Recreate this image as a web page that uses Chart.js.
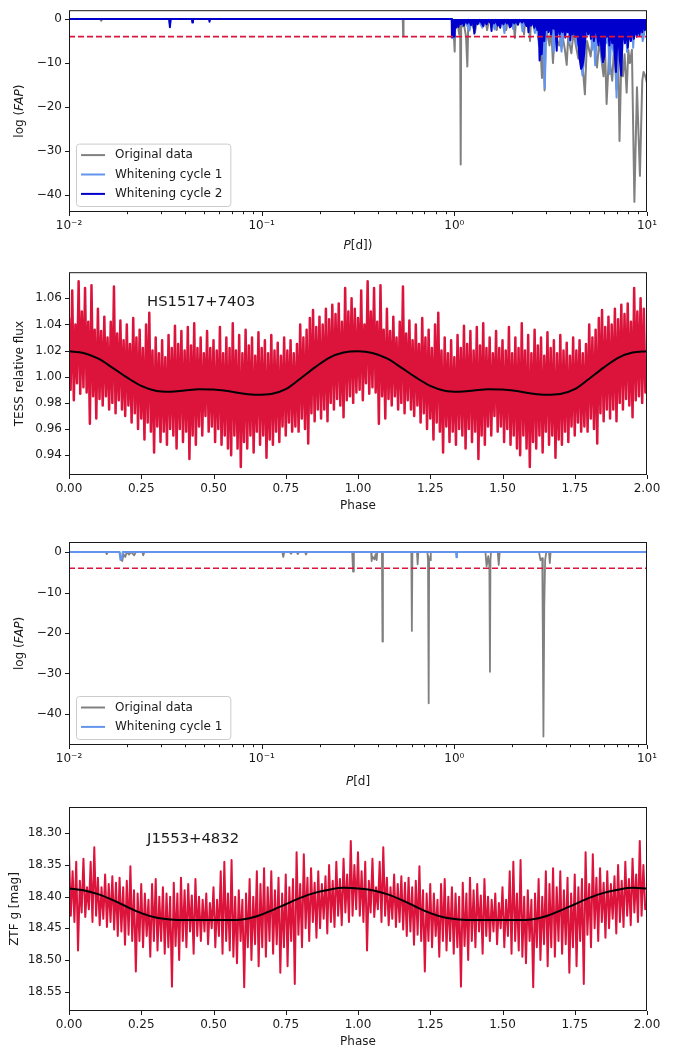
<!DOCTYPE html>
<html>
<head>
<meta charset="utf-8">
<script src="https://cdn.jsdelivr.net/npm/chart.js@4.4.1/dist/chart.umd.min.js"></script>
<style>
  html, body { margin: 0; padding: 0; background: #fff; }
  #page { position: relative; width: 681px; height: 1050px; overflow: hidden; }
  canvas { position: absolute; left: 0; }
</style>
</head>
<body>
<div id="page">
  <canvas id="fapTess" width="681" height="262" style="top:0px"></canvas>
  <canvas id="foldTess" width="681" height="266" style="top:262px"></canvas>
  <canvas id="fapZtf" width="681" height="266" style="top:528px"></canvas>
  <canvas id="foldZtf" width="681" height="256" style="top:794px"></canvas>
</div>
<script>
// ---- tick values ----
const logTicks = [0.01, 0.02, 0.03, 0.04, 0.05, 0.06, 0.07, 0.08, 0.09,
  0.1, 0.2, 0.3, 0.4, 0.5, 0.6, 0.7, 0.8, 0.9, 1, 2, 3, 4, 5, 6, 7, 8, 9, 10];
const logTickLabels = { 0.01: '10\u207B\u00B2', 0.1: '10\u207B\u00B9', 1: '10\u2070', 10: '10\u00B9' };
const fapTicks = [-40, -30, -20, -10, 0];
const phaseTicks = [0, 0.25, 0.5, 0.75, 1, 1.25, 1.5, 1.75, 2];
const tessTicks = [0.94, 0.96, 0.98, 1.00, 1.02, 1.04, 1.06];
const ztfTicks = [18.30, 18.35, 18.40, 18.45, 18.50, 18.55];
const fapThreshold = -4;

// ---- HS1517+7403 periodogram: [period (d), log FAP] ----
const tessOriginal = [
  [0.01, 0], [0.0145, 0], [0.0147, -0.4], [0.0149, 0], [0.54, 0], [0.5425, -3.9], [0.545, 0],
  [0.97, 0], [0.985, -3.0], [0.998, -5.0], [1.004, -7.4], [1.01, -2.0], [1.04, -1.0], [1.06, -3.5],
  [1.072, -1.0], [1.079, -33.0], [1.085, -2.0], [1.12, -1.0], [1.15, -4.0], [1.168, -10.8], [1.18, -2.0],
  [1.22, -0.3], [1.28, -3.0], [1.31, -0.3], [1.45, -0.3], [1.48, -2.5], [1.51, -0.3], [1.63, -0.3],
  [1.66, -2.5], [1.69, -0.3], [1.83, -0.3], [1.86, -2.5], [1.89, -0.3], [2.03, -0.3], [2.06, -4.3],
  [2.09, -0.3], [2.27, -0.3], [2.30, -3.5], [2.33, -0.3], [2.44, -0.3], [2.47, -5.0], [2.50, -0.3],
  [2.69, -0.5], [2.72, -4.5], [2.76, -1.0], [2.85, -13.4], [2.89, -3.0], [2.94, -16.2], [2.99, -2.0],
  [3.12, -6.0], [3.18, -2.0], [3.25, -10.0], [3.32, -3.0], [3.50, -6.0], [3.62, -3.0], [3.75, -7.0],
  [3.83, -10.4], [3.90, -4.0], [4.05, -7.8], [4.15, -3.0], [4.40, -9.0], [4.55, -6.0], [4.76, -17.1],
  [4.88, -5.0], [5.10, -8.5], [5.25, -3.0], [5.50, -11.0], [5.65, -5.0], [5.95, -13.0], [6.05, -6.0],
  [6.17, -19.3], [6.35, -8.0], [6.60, -14.0], [6.75, -6.0], [6.95, -16.0], [7.08, -7.0], [7.20, -27.7],
  [7.35, -10.0], [7.50, -13.0], [7.65, -8.0], [7.84, -16.7], [8.00, -7.0], [8.15, -10.0], [8.35, -7.0],
  [8.60, -41.5], [8.87, -15.5], [9.19, -35.6], [9.45, -14.0], [9.60, -12.0], [9.80, -13.0], [10, -14.5]
];
const tessCycle1 = [
  [0.01, 0], [0.0331, 0], [0.0334, -1.2], [0.0337, 0], [0.97, 0], [0.972, -4.3], [1.0, -4.2], [1.01, -1.0],
  [1.06, -0.3], [1.10, -1.2], [1.13, -0.3], [1.20, -2.6], [1.23, -0.3], [1.35, -0.8], [1.40, -2.0],
  [1.44, -0.3], [1.58, -0.6], [1.62, -2.4], [1.66, -0.3], [1.78, -0.6], [1.82, -3.2], [1.86, -0.3],
  [1.98, -0.6], [2.02, -2.3], [2.06, -0.3], [2.22, -0.6], [2.26, -2.8], [2.30, -0.3], [2.56, -0.8],
  [2.62, -3.2], [2.68, -1.0], [2.75, -6.0], [2.82, -3.0], [2.92, -9.8], [2.95, -15.7], [2.98, -6.0],
  [3.02, -2.0], [3.20, -2.0], [3.28, -7.5], [3.36, -3.0], [3.52, -3.0], [3.60, -7.4], [3.68, -3.0],
  [3.90, -2.0], [3.96, -5.5], [4.04, -2.0], [4.26, -3.0], [4.32, -6.0], [4.42, -5.0], [4.52, -8.0],
  [4.62, -12.8], [4.70, -10.0], [4.80, -4.0], [5.10, -2.0], [5.20, -7.0], [5.30, -3.0], [5.38, -10.5],
  [5.48, -4.0], [5.75, -3.5], [5.85, -10.0], [5.95, -6.0], [6.30, -5.0], [6.40, -12.5], [6.50, -5.0],
  [6.85, -9.0], [6.95, -17.8], [7.05, -6.0], [7.30, -7.0], [7.38, -11.0], [7.48, -4.0], [7.80, -2.0],
  [7.88, -7.5], [7.98, -2.0], [8.40, -2.5], [8.48, -6.5], [8.58, -2.0], [9.35, -1.5], [9.50, -5.0],
  [9.62, -4.0], [9.78, -1.5], [10, -1.0]
];
const tessCycle2 = [
  [0.01, 0], [0.0331, 0], [0.0334, -1.85], [0.0337, 0], [0.0434, 0], [0.0437, -0.8], [0.044, 0],
  [0.0533, 0], [0.0536, -0.6], [0.054, 0], [0.97, 0], [0.972, -4.1], [1.003, -4.0], [1.008, -1.5],
  [1.02, -2.0], [1.035, -0.5], [1.05, -1.8], [1.065, -0.3], [1.08, -1.2], [1.10, -0.3], [1.12, -1.5],
  [1.14, -0.3], [1.17, -1.0], [1.19, -0.2], [1.22, -1.4], [1.25, -0.3], [1.27, -3.3], [1.29, -0.3],
  [1.32, -1.2], [1.35, -0.2], [1.39, -1.0], [1.415, -1.6], [1.43, -0.2], [1.47, -1.2], [1.50, -0.2],
  [1.545, -1.0], [1.56, -2.7], [1.575, -0.2], [1.61, -1.0], [1.64, -0.2], [1.68, -1.5], [1.70, -0.3],
  [1.73, -2.0], [1.76, -0.3], [1.80, -1.2], [1.83, -0.2], [1.87, -1.0], [1.90, -0.2], [1.94, -1.9],
  [1.97, -1.6], [2.0, -0.3], [2.05, -1.0], [2.08, -0.2], [2.14, -1.3], [2.18, -0.2], [2.25, -0.8],
  [2.30, -0.2], [2.37, -1.6], [2.40, -0.3], [2.425, -3.0], [2.45, -0.3], [2.50, -1.5], [2.54, -0.3],
  [2.60, -2.0], [2.64, -0.5], [2.70, -2.5], [2.74, -1.0], [2.77, -9.4], [2.80, -6.0], [2.84, -8.0],
  [2.88, -3.0], [2.93, -5.0], [2.97, -1.0], [3.0, -2.5], [3.04, -0.5], [3.08, -3.0], [3.12, -1.0],
  [3.18, -3.5], [3.22, -0.8], [3.28, -2.2], [3.33, -1.0], [3.37, -4.0], [3.40, -7.2], [3.43, -2.0],
  [3.47, -1.0], [3.52, -3.5], [3.58, -1.5], [3.64, -3.0], [3.70, -1.0], [3.76, -4.2], [3.82, -1.5],
  [3.88, -3.0], [3.94, -1.2], [4.0, -4.8], [4.06, -1.5], [4.12, -3.5], [4.18, -1.5], [4.25, -4.0],
  [4.32, -2.0], [4.40, -5.5], [4.47, -9.0], [4.55, -11.3], [4.63, -10.5], [4.72, -8.0], [4.80, -3.0],
  [4.88, -1.5], [4.95, -3.5], [5.02, -1.5], [5.12, -4.5], [5.2, -2.0], [5.30, -5.0], [5.40, -1.5],
  [5.5, -3.5], [5.6, -6.0], [5.70, -2.0], [5.80, -7.0], [5.90, -9.8], [6.00, -8.5], [6.08, -3.0],
  [6.18, -4.0], [6.28, -2.0], [6.38, -6.0], [6.48, -2.5], [6.60, -5.5], [6.70, -2.0], [6.80, -8.0],
  [6.90, -12.0], [7.0, -6.0], [7.10, -3.0], [7.22, -9.0], [7.35, -12.8], [7.45, -5.0], [7.55, -2.0],
  [7.68, -5.5], [7.80, -2.0], [7.95, -6.5], [8.10, -2.5], [8.25, -5.0], [8.40, -1.5], [8.55, -4.5],
  [8.70, -1.5], [8.85, -4.0], [9.0, -1.5], [9.15, -3.8], [9.3, -1.0], [9.45, -3.0], [9.6, -0.8],
  [9.75, -2.5], [9.9, -1.0], [10, -2.0]
];

// ---- J1553+4832 periodogram ----
const ztfOriginal = [
  [0.01, 0], [0.0155, 0], [0.0157, -0.5], [0.0159, 0], [0.0183, 0], [0.0186, -1.8], [0.0189, -2.2],
  [0.0192, -0.5], [0.0196, -1.2], [0.0199, 0], [0.0205, -0.6], [0.021, 0], [0.0218, -0.8], [0.0222, 0],
  [0.024, 0], [0.0243, -0.8], [0.0246, 0], [0.128, 0], [0.1295, -1.2], [0.131, 0], [0.14, 0],
  [0.142, -0.4], [0.144, 0], [0.152, 0], [0.154, -0.5], [0.156, 0], [0.168, 0], [0.17, -0.6], [0.172, 0],
  [0.295, 0], [0.298, -4.8], [0.301, 0], [0.37, 0], [0.372, -2.2], [0.375, -1.0], [0.385, -1.8],
  [0.39, -0.5], [0.395, -2.0], [0.398, 0], [0.421, 0], [0.4236, -22.1], [0.426, 0], [0.598, 0],
  [0.602, -19.5], [0.606, 0], [0.64, 0], [0.645, -3.0], [0.65, 0], [0.725, 0], [0.73, -2.0],
  [0.735, -1.0], [0.737, -37.4], [0.74, -1.5], [0.75, -2.0], [0.755, 0], [1.45, 0], [1.47, -3.5],
  [1.5, -1.0], [1.52, -3.5], [1.531, -29.6], [1.54, -2.0], [1.55, 0], [1.68, 0], [1.70, -3.2], [1.72, 0],
  [2.75, 0], [2.80, -2.0], [2.86, -1.5], [2.88, -22.0], [2.90, -45.6], [2.93, -13.5], [2.96, -2.0],
  [3.0, 0], [3.10, 0], [3.13, -2.7], [3.16, 0], [10, 0]
];
const ztfCycle1 = [
  [0.01, 0], [0.0183, 0], [0.0185, -1.9], [0.0188, -1.6], [0.019, 0],
  [1.02, 0], [1.026, -1.3], [1.032, 0], [10, 0]
];

// ---- phase-folded light curves (one cycle, plotted twice) ----
const tessFlux = [
  1.045, 0.990, 1.066, 0.982, 1.040, 0.995, 1.073, 0.987, 1.050, 0.992,
  1.068, 0.988, 1.042, 0.964, 1.070, 0.985, 1.036, 0.968, 1.052, 0.983,
  1.035, 0.978, 1.046, 0.985, 1.030, 0.975, 1.042, 0.980, 1.069, 0.972,
  1.033, 0.982, 1.043, 0.975, 1.028, 0.970, 1.040, 0.978, 1.025, 0.965,
  1.045, 0.972, 1.030, 0.960, 1.036, 0.968, 1.022, 0.952, 1.040, 0.965,
  1.049, 0.958, 1.020, 0.942, 1.030, 0.962, 1.018, 0.950, 1.028, 0.958,
  1.015, 0.948, 1.032, 0.960, 1.022, 0.955, 1.039, 0.945, 1.025, 0.960,
  1.035, 0.950, 1.020, 0.958, 1.038, 0.937, 1.024, 0.955, 1.041, 0.948,
  1.022, 0.962, 1.030, 0.955, 1.018, 0.970, 1.035, 0.958, 1.022, 0.962,
  1.028, 0.950, 1.020, 0.960, 1.038, 0.948, 1.018, 0.955, 1.030, 0.945,
  1.022, 0.940, 1.041, 0.955, 1.020, 0.945, 1.032, 0.931, 1.018, 0.950,
  1.036, 0.945, 1.024, 0.955, 1.030, 0.942, 1.016, 0.958, 1.034, 0.948,
  1.022, 0.955, 1.028, 0.938, 1.018, 0.952, 1.032, 0.948, 1.020, 0.958,
  1.026, 0.950, 1.016, 0.962, 1.030, 0.955, 1.020, 0.965, 1.028, 0.958,
  1.018, 0.962, 1.025, 0.958, 1.040, 0.968, 1.030, 0.960, 1.036, 0.949,
  1.045, 0.972, 1.051, 0.966, 1.038, 0.975, 1.046, 0.968, 1.040, 0.975,
  1.052, 0.966, 1.044, 0.980, 1.055, 0.975, 1.048, 0.983, 1.056, 0.978,
  1.042, 0.969, 1.068, 0.982, 1.050, 0.985, 1.060, 0.980, 1.052, 0.988
];
const modelPhase = [0, 0.05, 0.1, 0.15, 0.2, 0.25, 0.3, 0.35, 0.4, 0.45, 0.5,
  0.55, 0.6, 0.65, 0.7, 0.75, 0.8, 0.85, 0.9, 0.95, 1.0];
const tessModel = [1.0195, 1.0182, 1.0140, 1.0070, 0.9995, 0.9930, 0.9893, 0.9885, 0.9895, 0.9905, 0.9903,
  0.9890, 0.9872, 0.9862, 0.9868, 0.9905, 0.9985, 1.0070, 1.0145, 1.0185, 1.0195];
const ztfMag = [
  18.330, 18.430, 18.360, 18.440, 18.345, 18.485, 18.375, 18.425, 18.340, 18.432,
  18.385, 18.420, 18.345, 18.440, 18.322, 18.430, 18.370, 18.445, 18.385, 18.435,
  18.365, 18.448, 18.380, 18.440, 18.368, 18.452, 18.378, 18.462, 18.370, 18.455,
  18.385, 18.476, 18.375, 18.460, 18.352, 18.470, 18.390, 18.518, 18.395, 18.470,
  18.380, 18.480, 18.395, 18.462, 18.405, 18.495, 18.380, 18.470, 18.372, 18.485,
  18.400, 18.470, 18.385, 18.490, 18.395, 18.480, 18.400, 18.542, 18.378, 18.478,
  18.395, 18.500, 18.370, 18.470, 18.390, 18.480, 18.380, 18.455, 18.398, 18.490,
  18.372, 18.462, 18.400, 18.470, 18.405, 18.455, 18.395, 18.475, 18.410, 18.450,
  18.385, 18.480, 18.405, 18.462, 18.360, 18.490, 18.345, 18.470, 18.395, 18.485,
  18.342, 18.495, 18.400, 18.505, 18.390, 18.470, 18.405, 18.543, 18.395, 18.480,
  18.372, 18.500, 18.400, 18.475, 18.360, 18.510, 18.380, 18.480, 18.355, 18.495,
  18.385, 18.470, 18.360, 18.490, 18.390, 18.475, 18.370, 18.520, 18.395, 18.480,
  18.365, 18.510, 18.385, 18.470, 18.372, 18.538, 18.330, 18.460, 18.380, 18.480,
  18.333, 18.450, 18.370, 18.470, 18.355, 18.440, 18.378, 18.465, 18.360, 18.450,
  18.380, 18.435, 18.368, 18.458, 18.350, 18.440, 18.375, 18.448, 18.345, 18.430,
  18.372, 18.445, 18.340, 18.425, 18.365, 18.440, 18.312, 18.430, 18.350, 18.420
];
const ztfModel = [18.387, 18.390, 18.396, 18.405, 18.416, 18.426, 18.433, 18.436, 18.437, 18.437, 18.437,
  18.437, 18.436, 18.431, 18.422, 18.412, 18.402, 18.394, 18.389, 18.386, 18.387];

const FONT = '"DejaVu Sans"';
const INK = '#1a1a1a';
Chart.defaults.font.family = FONT;
Chart.defaults.color = INK;

const pairsToXY = arr => arr.map(([x, y]) => ({ x, y }));
// the folded curve is shown over two cycles: phase and phase + 1
function twoCycles(phases, values) {
  const one = values.map((v, i) => ({ x: phases[i], y: v }));
  return one.concat(one.map(p => ({ x: p.x + 1, y: p.y })));
}
const evenPhases = vals => vals.map((_, i) => i / vals.length);

// draws text made of upright / italic pieces, centred on (cx, cy)
function drawRich(ctx, parts, cx, cy, rotated, size) {
  ctx.save();
  ctx.translate(cx, cy);
  if (rotated) ctx.rotate(-Math.PI / 2);
  ctx.fillStyle = INK;
  ctx.textBaseline = 'middle';
  let w = 0;
  parts.forEach(([t, st]) => { ctx.font = `${st} ${size}px ${FONT}`; w += ctx.measureText(t).width; });
  let xx = -w / 2;
  parts.forEach(([t, st]) => {
    ctx.font = `${st} ${size}px ${FONT}`;
    ctx.fillText(t, xx, 0);
    xx += ctx.measureText(t).width;
  });
  ctx.restore();
}

// matplotlib-like frame, tick marks, labels, legend and annotation
const mplAxes = {
  id: 'mpl',
  afterDatasetsDraw(chart, args, o) {
    const { ctx, chartArea: a } = chart;
    const xs = chart.scales.x, ys = chart.scales.y;
    ctx.save();
    ctx.strokeStyle = INK;
    ctx.lineWidth = 1;
    ctx.beginPath();
    xs.ticks.forEach(t => {
      const px = Math.round(xs.getPixelForValue(t.value)) + 0.5;
      let len = 4;
      if (xs.type === 'logarithmic') {
        const e = Math.log10(t.value);
        if (Math.abs(e - Math.round(e)) > 1e-6) len = 2.2;
      }
      ctx.moveTo(px, a.bottom); ctx.lineTo(px, a.bottom + len);
    });
    ys.ticks.forEach(t => {
      const py = Math.round(ys.getPixelForValue(t.value)) + 0.5;
      ctx.moveTo(a.left, py); ctx.lineTo(a.left - 4, py);
    });
    ctx.stroke();
    ctx.strokeRect(a.left + 0.5, a.top + 0.5, a.right - a.left - 1, a.bottom - a.top - 1);

    drawRich(ctx, o.xTitle, (a.left + a.right) / 2, a.bottom + o.xTitleGap, false, 12);
    drawRich(ctx, o.yTitle, o.yTitleX, (a.top + a.bottom) / 2, true, 12);

    if (o.note) {
      ctx.font = `${o.note.size}px ${FONT}`;
      ctx.fillStyle = INK;
      ctx.textBaseline = 'alphabetic';
      ctx.textAlign = 'left';
      ctx.fillText(o.note.text, xs.getPixelForValue(o.note.x), ys.getPixelForValue(o.note.y));
    }

    if (o.legend) {
      const items = o.legend.map(l => chart.data.datasets.find(d => d.label === l));
      const fs = 12, row = 19.4;
      const h = 9.6 + items.length * 14 + (items.length - 1) * 5.4;
      ctx.font = `${fs}px ${FONT}`;
      const tw = Math.max(...items.map(d => ctx.measureText(d.label).width));
      const bx = a.left + 7, by = a.bottom - 6 - h, bw = 39 + tw + 8;
      ctx.beginPath();
      ctx.roundRect(bx + 0.5, by + 0.5, bw, h, 3);
      ctx.fillStyle = 'rgba(255,255,255,0.8)';
      ctx.fill();
      ctx.strokeStyle = '#cccccc';
      ctx.stroke();
      items.forEach((d, i) => {
        const cy = by + 11.5 + i * row;
        ctx.beginPath();
        ctx.strokeStyle = d.borderColor;
        ctx.lineWidth = 2;
        ctx.moveTo(bx + 5, cy); ctx.lineTo(bx + 29, cy);
        ctx.stroke();
        ctx.fillStyle = INK;
        ctx.textBaseline = 'middle';
        ctx.fillText(d.label, bx + 39, cy);
      });
    }
    ctx.restore();
  }
};

function axis(a, fit) {
  return {
    type: a.type || 'linear',
    min: a.min, max: a.max, reverse: !!a.reverse,
    afterBuildTicks: s => { s.ticks = a.ticks.map(v => ({ value: v })); },
    afterFit: fit,
    grid: { display: false, drawTicks: true, tickLength: 4 },
    border: { display: false },
    ticks: { autoSkip: false, maxRotation: 0, minRotation: 0, padding: 3, color: INK,
             font: { size: 12 }, callback: a.label }
  };
}

function buildPanel(id, cfg) {
  const canvas = document.getElementById(id);
  const H = canvas.height;
  return new Chart(canvas, {
    type: 'line',
    data: { datasets: cfg.datasets },
    options: {
      responsive: false,
      animation: false,
      events: [],
      elements: {
        point: { radius: 0 },
        line: { tension: 0, borderJoinStyle: 'round', borderCapStyle: 'round' }
      },
      layout: { autoPadding: false, padding: { top: cfg.areaTop, right: 34, bottom: 0, left: 0 } },
      plugins: { legend: { display: false }, tooltip: { enabled: false }, mpl: cfg.mpl },
      scales: {
        x: axis(cfg.x, s => { s.height = H - cfg.areaBottom; }),
        y: axis(cfg.y, s => { s.width = 69; })
      }
    },
    plugins: [mplAxes]
  });
}

const fmtFap = v => (v < 0 ? '\u2212' + Math.abs(v) : String(v));
const fmt2 = v => v.toFixed(2);
const logLabel = v => logTickLabels[v] || '';
const fapTitle = [['log (', ''], ['FAP', 'italic'], [')', '']];
const thresholdLine = {
  label: 'threshold', data: [{ x: 0.01, y: fapThreshold }, { x: 10, y: fapThreshold }],
  borderColor: '#dc143c', borderWidth: 1.6, borderDash: [6, 3], borderCapStyle: 'butt'
};

buildPanel('fapTess', {
  areaTop: 6, areaBottom: 212,
  x: { type: 'logarithmic', min: 0.01, max: 10, ticks: logTicks, label: logLabel },
  y: { min: -43.8, max: 2.0, ticks: fapTicks, label: fmtFap },
  datasets: [
    thresholdLine,
    { label: 'Whitening cycle 2', data: pairsToXY(tessCycle2), borderColor: '#0000cd',
      backgroundColor: '#0000cd', borderWidth: 2, fill: 'origin' },
    { label: 'Whitening cycle 1', data: pairsToXY(tessCycle1), borderColor: '#6495ed',
      backgroundColor: '#6495ed', borderWidth: 2, fill: 'origin' },
    { label: 'Original data', data: pairsToXY(tessOriginal), borderColor: '#808080', borderWidth: 2 }
  ],
  mpl: {
    xTitle: [['P', 'italic'], ['[d])', '']], xTitleGap: 34,
    yTitle: fapTitle, yTitleX: 20,
    legend: ['Original data', 'Whitening cycle 1', 'Whitening cycle 2']
  }
});

buildPanel('foldTess', {
  areaTop: 9, areaBottom: 213,
  x: { min: 0, max: 2, ticks: phaseTicks, label: fmt2 },
  y: { min: 0.9248, max: 1.0800, ticks: tessTicks, label: fmt2 },
  datasets: [
    { label: 'model', data: twoCycles(modelPhase, tessModel), borderColor: '#000000',
      borderWidth: 2, cubicInterpolationMode: 'monotone' },
    { label: 'flux', data: twoCycles(evenPhases(tessFlux), tessFlux), borderColor: '#dc143c', borderWidth: 2.5 }
  ],
  mpl: {
    xTitle: [['Phase', '']], xTitleGap: 31,
    yTitle: [['TESS relative flux', '']], yTitleX: 20,
    note: { text: 'HS1517+7403', x: 0.27, y: 1.054, size: 14.8 }
  }
});

buildPanel('fapZtf', {
  areaTop: 14, areaBottom: 217,
  x: { type: 'logarithmic', min: 0.01, max: 10, ticks: logTicks, label: logLabel },
  y: { min: -47.7, max: 2.5, ticks: fapTicks, label: fmtFap },
  datasets: [
    thresholdLine,
    { label: 'Whitening cycle 1', data: pairsToXY(ztfCycle1), borderColor: '#6495ed', borderWidth: 2 },
    { label: 'Original data', data: pairsToXY(ztfOriginal), borderColor: '#808080', borderWidth: 1.8 }
  ],
  mpl: {
    xTitle: [['P', 'italic'], ['[d]', '']], xTitleGap: 37,
    yTitle: fapTitle, yTitleX: 20,
    legend: ['Original data', 'Whitening cycle 1']
  }
});

buildPanel('foldZtf', {
  areaTop: 13, areaBottom: 217,
  x: { min: 0, max: 2, ticks: phaseTicks, label: fmt2 },
  y: { min: 18.2585, max: 18.5805, reverse: true, ticks: ztfTicks, label: fmt2 },
  datasets: [
    { label: 'model', data: twoCycles(modelPhase, ztfModel), borderColor: '#000000',
      borderWidth: 2, cubicInterpolationMode: 'monotone' },
    { label: 'mag', data: twoCycles(evenPhases(ztfMag), ztfMag), borderColor: '#dc143c', borderWidth: 2 }
  ],
  mpl: {
    xTitle: [['Phase', '']], xTitleGap: 31,
    yTitle: [['ZTF g [mag]', '']], yTitleX: 15,
    note: { text: 'J1553+4832', x: 0.27, y: 18.315, size: 14.8 }
  }
});
</script>
</body>
</html>
